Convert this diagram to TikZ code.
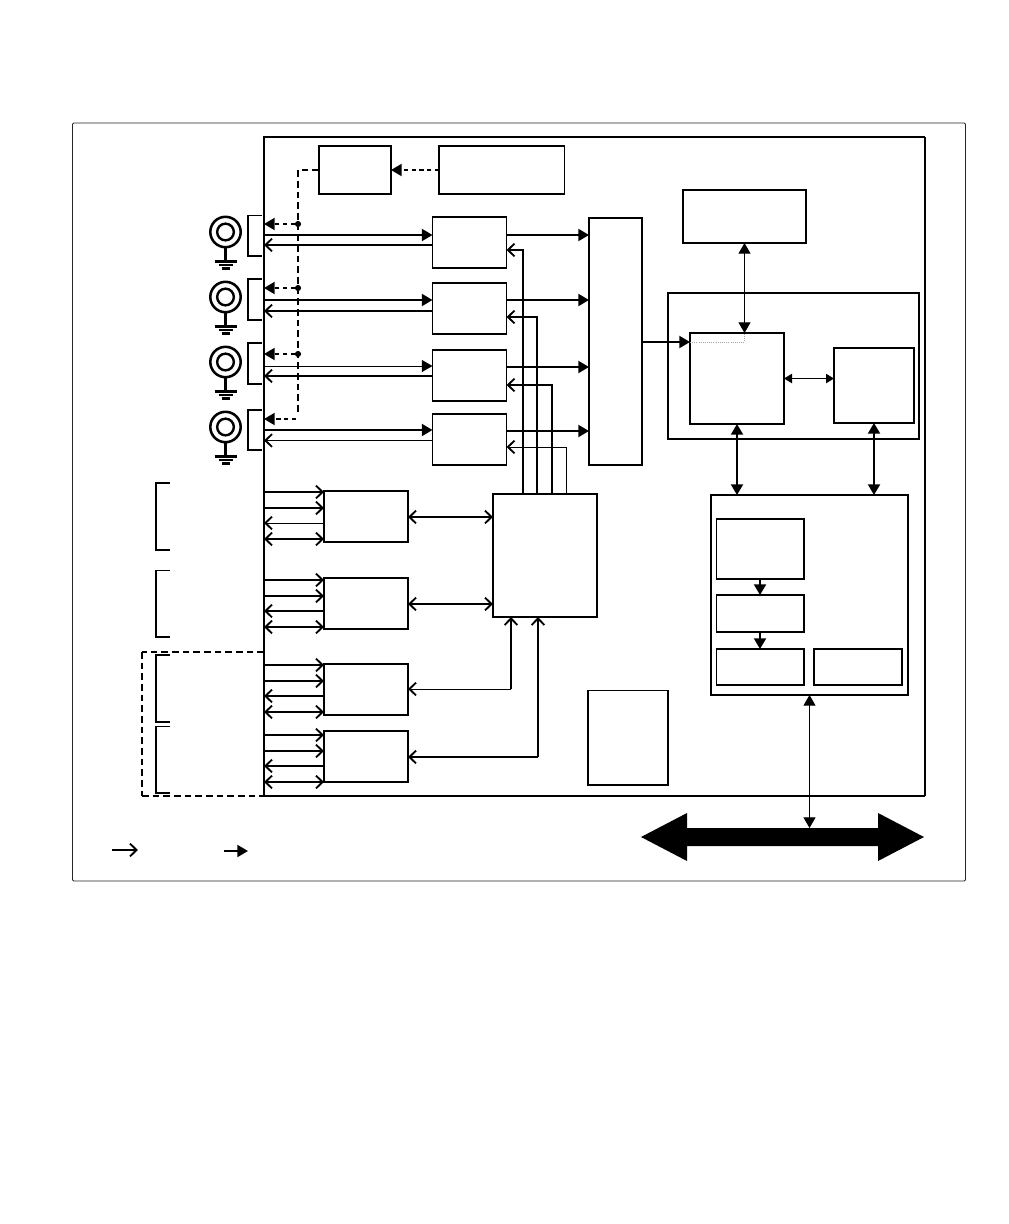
\documentclass[tikz,border=0pt]{standalone}
\usetikzlibrary{arrows.meta,calc}
\newcommand\bx[6]{\node[boxnode,line width=#6,minimum width={(#4-#2)*0.75pt},minimum height={(#5-#3)*0.75pt}] (#1) at ({(#2+#4)/2},{(#3+#5)/2}) {};}
\newcommand\coax[2]{%
  \node[coaxouter] (#1o) at (225.5,#2) {};
  \node[coaxinner] (#1i) at (225.5,#2) {};
  \coordinate (#1g) at (225.5,#2+29.5);
  \draw[line width=1.6pt] (#1o.south) -- (#1g);
  \draw[line width=1.7pt] ($(#1g)+(-11,0)$) -- ($(#1g)+(11,0)$);
  \draw[line width=1.7pt] ($(#1g)+(-7,3.7)$) -- ($(#1g)+(7,3.7)$);
  \draw[line width=1.9pt] ($(#1g)+(-4,7.2)$) -- ($(#1g)+(4,7.2)$);
}
\newcommand\brk[4]{\draw[line width=#4,line join=miter] (#1+14,#2) -- (#1,#2) -- (#1,#3) -- (#1+14,#3);}
\tikzset{
  x=0.75pt,y=-0.75pt,
  boxnode/.style={draw=black,rectangle,inner sep=0pt,outer sep=0pt},
  coaxouter/.style={draw=black,circle,inner sep=0pt,outer sep=0pt,line width=1.9pt,minimum size=22.8pt},
  coaxinner/.style={draw=black,circle,inner sep=0pt,outer sep=0pt,line width=1.8pt,minimum size=12.5pt},
  dotnode/.style={fill=black,circle,inner sep=0pt,outer sep=0pt,minimum size=4.6pt},
  tk/.style={line width=1.5pt},
  tn/.style={line width=0.75pt},
  fa/.style={-{Triangle[length=8pt,width=9pt]}},
  fb/.style={{Triangle[length=8pt,width=9pt]}-{Triangle[length=8pt,width=9pt]}},
  fs/.style={{Triangle[length=6pt,width=7pt]}-{Triangle[length=6pt,width=7pt]}},
  oa/.style={-{Straight Barb[length=5pt,width=9.5pt,line width=1.4pt]}},
  ob/.style={{Straight Barb[length=5pt,width=9.5pt,line width=1.4pt]}-{Straight Barb[length=5pt,width=9.5pt,line width=1.4pt]}},
  shortdash/.style={dash pattern=on 3.2pt off 2.6pt},
  longdash/.style={dash pattern=on 5pt off 3pt},
}
\begin{document}
\begin{tikzpicture}
\useasboundingbox (0,0) rectangle (1008,1224);
\fill[white] (0,0) rectangle (1008,1224);
% outer frame
\draw[black!85,line width=0.7pt,rounded corners=1pt] (72.5,123) rectangle (965.5,881);
% main frame
\node[rectangle,inner sep=0pt,outer sep=0pt,minimum width={661*0.75pt},minimum height={659*0.75pt}] (main) at (594.5,466.5) {};
\draw[line width=1.5pt] (main.north east) -- (main.north west) -- (main.south west) -- (main.south east);
\draw[line width=0.9pt] (main.north east) -- (main.south east);
% boxes
\bx{ctl}{319}{145.5}{391}{194}{1.5pt}
\bx{src}{439}{146}{564.5}{194}{1.1pt}
\bx{cha}{432.5}{217}{506.5}{268}{1.1pt}
\bx{chb}{432.5}{283}{506.5}{334}{1.1pt}
\bx{chc}{432.5}{350}{506.5}{401}{1.1pt}
\bx{chd}{432.5}{414}{506.5}{465}{1.1pt}
\bx{mux}{589}{218}{642}{465}{1.5pt}
\bx{top}{683}{190}{806}{243}{1.2pt}
\bx{cpuo}{668}{293}{919}{439}{1.5pt}
\bx{cpu}{690}{333}{784}{424}{1.5pt}
\bx{mem}{834}{348}{914}{423}{1.5pt}
\bx{pci}{711}{495}{908}{695}{1.5pt}
\bx{pa}{716.5}{519}{804}{579}{1.4pt}
\bx{pb}{716.5}{595}{804}{632}{1.4pt}
\bx{pc}{716.5}{649}{804}{685}{1.4pt}
\bx{pd}{814}{649}{902}{685}{1.2pt}
\bx{hub}{493}{494}{596.5}{617}{1.5pt}
\bx{dra}{324}{491}{408}{542}{1.5pt}
\bx{drb}{324}{578}{408}{629}{1.5pt}
\bx{drc}{324}{664}{408}{715}{1.5pt}
\bx{drd}{324}{731}{408}{782}{1.5pt}
\bx{aux}{588}{690.5}{668}{785}{1.2pt}
% coax connectors
\coax{ca}{232}
\coax{cb}{297}
\coax{cc}{362}
\coax{cd}{427}
% coax brackets
\brk{248}{215.5}{256}{1.2pt}
\brk{248}{279}{320}{1.2pt}
\brk{248}{343}{384}{1.2pt}
\brk{248}{410}{450}{0.9pt}
% left brackets
\brk{156}{483}{550}{1.3pt}
\brk{156}{570.5}{637}{0.8pt}
\brk{156}{655}{722}{1.2pt}
\brk{156}{726.5}{793}{1.3pt}
% dashed region
\draw[line width=1.1pt,longdash] (main.north west |- 0,652) -- (142,652);
\draw[line width=0.8pt,longdash] (142,652) -- (142,796);
\draw[line width=1.1pt,longdash] (142,796) -- (main.south west);
% dashed trunk
\coordinate (tk1) at (298,170);
\coordinate (tk2) at (298,415);
\node[dotnode] (da) at (298,224) {};
\node[dotnode] (db) at (298,288) {};
\node[dotnode] (dc) at (298,354) {};
\coordinate (dd) at (296,419);
\draw[line width=1.1pt,longdash] (ctl.west |- tk1) -- (tk1) -- (tk2);
\draw[tk,shortdash,fa] (src.west |- 0,170) -- (ctl.east |- 0,170);
\draw[tk,shortdash,fa] (da) -- (main.west |- da);
\draw[tk,shortdash,fa] (db) -- (main.west |- db);
\draw[tk,shortdash,fa] (dc) -- (main.west |- dc);
\draw[tk,shortdash,fa] (dd) -- (main.west |- dd);
% channel signals
\draw[tk,fa] (main.west |- 0,235) -- (cha.west |- 0,235);
\draw[tk,oa] (cha.west |- 0,245) -- (main.west |- 0,245);
\draw[tk,fa] (main.west |- 0,300) -- (chb.west |- 0,300);
\draw[tk,oa] (chb.west |- 0,311) -- (main.west |- 0,311);
\draw[tn,fa] (main.west |- 0,366) -- (chc.west |- 0,366);
\draw[tk,oa] (chc.west |- 0,376) -- (main.west |- 0,376);
\draw[tk,fa] (main.west |- 0,430) -- (chd.west |- 0,430);
\draw[tn,oa] (chd.west |- 0,440.5) -- (main.west |- 0,440.5);
% channel to mux
\draw[tk,fa] (cha.east |- 0,235) -- (mux.west |- 0,235);
\draw[tk,fa] (chb.east |- 0,300) -- (mux.west |- 0,300);
\draw[tk,fa] (chc.east |- 0,367) -- (mux.west |- 0,367);
\draw[tk,fa] (chd.east |- 0,431) -- (mux.west |- 0,431);
% hub to channels
\draw[tk,oa] (523,0 |- hub.north) -- (523,250) -- (cha.east |- 0,250);
\draw[tk,oa] (537,0 |- hub.north) -- (537,317) -- (chb.east |- 0,317);
\draw[tk,oa] (552,0 |- hub.north) -- (552,385) -- (chc.east |- 0,385);
\draw[tn,oa] (566.5,0 |- hub.north) -- (566.5,447) -- (chd.east |- 0,447);
% mux to cpu
\draw[tk,fa] (mux.east |- 0,342) -- (cpu.west |- 0,342);
\draw[black!35,line width=0.6pt,densely dotted] (cpu.west |- 0,342) -- (744.5,342) -- (744.5,0 |- cpu.north);
% cpu links
\draw[tn,fb] (744.5,0 |- top.south) -- (744.5,0 |- cpu.north);
\draw[tn,fs] (cpu.east |- 0,378.5) -- (mem.west |- 0,378.5);
\draw[tk,fb] (737,0 |- cpu.south) -- (737,0 |- pci.north);
\draw[tk,fb] (874,0 |- mem.south) -- (874,0 |- pci.north);
% inside pci
\draw[tk,fa] (760,0 |- pa.south) -- (760,0 |- pb.north);
\draw[tk,fa] (760,0 |- pb.south) -- (760,0 |- pc.north);
% bus
\coordinate (bust) at (809.5,828);
\draw[tn,fb] (809.5,0 |- pci.south) -- (bust);
\fill[black] (641,837) -- (687,813) -- (687,828) -- (878,828) -- (878,813) -- (924,837) -- (878,861) -- (878,846) -- (687,846) -- (687,861) -- cycle;
% driver signals A
\draw[tk,oa] (main.west |- 0,492) -- (dra.west |- 0,492);
\draw[tk,oa] (main.west |- 0,508) -- (dra.west |- 0,508);
\draw[tn,oa] (dra.west |- 0,523) -- (main.west |- 0,523);
\draw[tk,ob] (main.west |- 0,539) -- (dra.west |- 0,539);
% B
\draw[tk,oa] (main.west |- 0,580) -- (drb.west |- 0,580);
\draw[tk,oa] (main.west |- 0,596) -- (drb.west |- 0,596);
\draw[tk,oa] (drb.west |- 0,611) -- (main.west |- 0,611);
\draw[tk,ob] (main.west |- 0,627) -- (drb.west |- 0,627);
% C
\draw[tk,oa] (main.west |- 0,665) -- (drc.west |- 0,665);
\draw[tk,oa] (main.west |- 0,681) -- (drc.west |- 0,681);
\draw[tk,oa] (drc.west |- 0,696) -- (main.west |- 0,696);
\draw[tk,ob] (main.west |- 0,712) -- (drc.west |- 0,712);
% D
\draw[tk,oa] (main.west |- 0,735) -- (drd.west |- 0,735);
\draw[tk,oa] (main.west |- 0,751) -- (drd.west |- 0,751);
\draw[tk,oa] (drd.west |- 0,766) -- (main.west |- 0,766);
\draw[tk,ob] (main.west |- 0,782) -- (drd.west |- 0,782);
% drivers to hub
\draw[tk,ob] (dra.east |- 0,517) -- (hub.west |- 0,517);
\draw[tk,ob] (drb.east |- 0,604) -- (hub.west |- 0,604);
\coordinate (ja) at (511,689);
\coordinate (jb) at (538,757);
\draw[tk,oa] (ja) -- (ja |- hub.south);
\draw[tn,oa] (ja) -- (drc.east |- ja);
\draw[tk,oa] (jb) -- (jb |- hub.south);
\draw[tk,oa] (jb) -- (drd.east |- jb);
% legend
\coordinate (la) at (112,850);
\coordinate (lb) at (138,850);
\coordinate (lc) at (224,851);
\coordinate (ld) at (248,851);
\draw[oa,line width=1.1pt] (la) -- (lb);
\draw[tk,fa] (lc) -- (ld);
\end{tikzpicture}
\end{document}
